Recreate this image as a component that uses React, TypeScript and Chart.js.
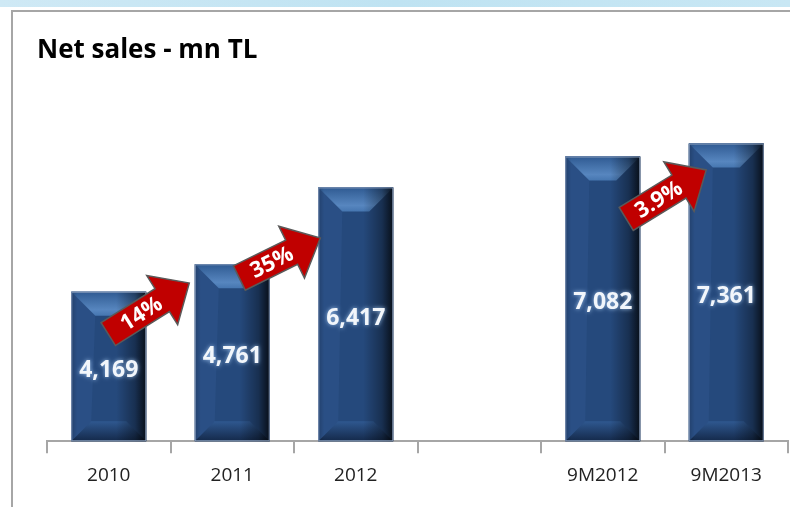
import React, { useEffect, useRef } from 'react';
import { Chart, registerables } from 'chart.js';

Chart.register(...registerables);

const title = 'Net sales - mn TL';
const categories = ['2010', '2011', '2012', '', '9M2012', '9M2013'];
const netSales: (number | null)[] = [4169, 4761, 6417, null, 7082, 7361];

// growth arrows: label, start (category position, value), end (category position, value)
const arrowLabels = ['14%', '35%', '3.9%'];
const arrowFromIndex = [-0.004, 1.057, 4.19];
const arrowFromValue = [3257, 4465, 5738];
const arrowToIndex = [0.652, 1.713, 4.838];
const arrowToValue = [4357, 5328, 6794];

const Y_MIN = 950;
const Y_MAX = 8300;

const decorPlugin = {
  id: 'decor',
  beforeDraw(chart: any) {
    const { ctx, width, height } = chart;
    ctx.save();
    ctx.fillStyle = '#ffffff';
    ctx.fillRect(0, 0, width, height);
    const g = ctx.createLinearGradient(0, 0, width, 0);
    g.addColorStop(0, '#cfe9f5');
    g.addColorStop(0.5, '#bfe3f2');
    g.addColorStop(1, '#c8e7f4');
    ctx.fillStyle = g;
    ctx.fillRect(0, 0, width, 7);
    ctx.strokeStyle = '#a6a6a6';
    ctx.lineWidth = 2;
    ctx.beginPath();
    ctx.moveTo(12, height);
    ctx.lineTo(12, 11);
    ctx.lineTo(width, 11);
    ctx.stroke();
    ctx.fillStyle = '#000000';
    ctx.font = 'bold 26px "Open Sans"';
    ctx.textBaseline = 'alphabetic';
    ctx.textAlign = 'left';
    ctx.fillText(title, 37, 58, 223);
    ctx.restore();
  },
};

function drawArrow(ctx: CanvasRenderingContext2D, x0: number, y0: number, x1: number, y1: number, label: string) {
  const dx = x1 - x0;
  const dy = y1 - y0;
  const L = Math.sqrt(dx * dx + dy * dy);
  const ang = Math.atan2(dy, dx);
  const headLen = 32;
  const shaftHalf = 13.5;
  const headHalf = 29;
  ctx.save();
  ctx.translate(x0, y0);
  ctx.rotate(ang);
  ctx.beginPath();
  ctx.moveTo(0, -shaftHalf);
  ctx.lineTo(L - headLen, -shaftHalf);
  ctx.lineTo(L - headLen, -headHalf);
  ctx.lineTo(L, 0);
  ctx.lineTo(L - headLen, headHalf);
  ctx.lineTo(L - headLen, shaftHalf);
  ctx.lineTo(0, shaftHalf);
  ctx.closePath();
  ctx.fillStyle = '#c00000';
  ctx.fill();
  ctx.strokeStyle = '#5a5a5a';
  ctx.lineWidth = 1.5;
  ctx.stroke();
  ctx.fillStyle = '#ffffff';
  ctx.font = 'bold 22px "Open Sans"';
  ctx.textAlign = 'center';
  ctx.textBaseline = 'middle';
  ctx.fillText(label, (L - headLen) / 2 + 7, 1);
  ctx.restore();
}

const barPlugin = {
  id: 'bevelBars',
  afterDatasetsDraw(chart: any) {
    const { ctx, chartArea } = chart;
    const meta = chart.getDatasetMeta(0);
    ctx.save();
    meta.data.forEach((el: any, i: number) => {
      const v = netSales[i];
      if (v == null) return;
      const l = el.x - el.width / 2;
      const r = el.x + el.width / 2;
      const t = el.y;
      const b = Math.min(el.base, chartArea.bottom);
      const w = r - l;
      const d = 24;
      // body
      ctx.fillStyle = '#25497c';
      ctx.fillRect(l, t, w, b - t);
      // top bevel
      const tg = ctx.createLinearGradient(0, t, 0, t + d);
      tg.addColorStop(0, '#2f5a92');
      tg.addColorStop(0.75, '#5786bf');
      tg.addColorStop(1, '#4676b0');
      ctx.fillStyle = tg;
      ctx.beginPath();
      ctx.moveTo(l, t);
      ctx.lineTo(r, t);
      ctx.lineTo(r - d, t + d);
      ctx.lineTo(l + d, t + d);
      ctx.closePath();
      ctx.fill();
      // bottom bevel
      const bd = 20;
      const bg = ctx.createLinearGradient(0, b - bd, 0, b);
      bg.addColorStop(0, '#2f5890');
      bg.addColorStop(1, '#14294a');
      ctx.fillStyle = bg;
      ctx.beginPath();
      ctx.moveTo(l, b);
      ctx.lineTo(r, b);
      ctx.lineTo(r - bd, b - bd);
      ctx.lineTo(l + bd, b - bd);
      ctx.closePath();
      ctx.fill();
      // left bevel slight
      ctx.fillStyle = 'rgba(60,100,160,0.25)';
      ctx.beginPath();
      ctx.moveTo(l, t);
      ctx.lineTo(l + d, t + d);
      ctx.lineTo(l + bd, b - bd);
      ctx.lineTo(l, b);
      ctx.closePath();
      ctx.fill();
      // horizontal shading
      const hg = ctx.createLinearGradient(l, 0, r, 0);
      hg.addColorStop(0, 'rgba(0,0,0,0.18)');
      hg.addColorStop(0.08, 'rgba(0,0,0,0)');
      hg.addColorStop(0.6, 'rgba(0,0,0,0)');
      hg.addColorStop(0.85, 'rgba(0,0,0,0.35)');
      hg.addColorStop(1, 'rgba(0,0,0,0.8)');
      ctx.fillStyle = hg;
      ctx.fillRect(l, t, w, b - t);
      // border
      ctx.strokeStyle = 'rgba(140,160,190,0.9)';
      ctx.lineWidth = 1;
      ctx.strokeRect(l + 0.5, t + 0.5, w - 1, b - t - 1);
      // value label
      ctx.save();
      ctx.font = 'bold 23px "Open Sans"';
      ctx.textAlign = 'center';
      ctx.textBaseline = 'middle';
      ctx.shadowColor = 'rgba(170,205,245,0.9)';
      ctx.shadowBlur = 4;
      ctx.fillStyle = '#f2f6fb';
      ctx.fillText(v.toLocaleString('en-US'), el.x, (t + b) / 2 + 4);
      ctx.restore();
    });
    const xs = chart.scales.x;
    const ys = chart.scales.y;
    arrowLabels.forEach((lab, k) => {
      drawArrow(
        ctx,
        xs.getPixelForValue(arrowFromIndex[k]),
        ys.getPixelForValue(arrowFromValue[k]),
        xs.getPixelForValue(arrowToIndex[k]),
        ys.getPixelForValue(arrowToValue[k]),
        lab
      );
    });
    ctx.restore();
  },
};

export default function App() {
  const ref = useRef<HTMLCanvasElement | null>(null);
  useEffect(() => {
    if (!ref.current) return;
    const chart = new Chart(ref.current, {
      type: 'bar',
      data: {
        labels: categories,
        datasets: [
          {
            data: netSales as any,
            backgroundColor: '#25497c',
            borderWidth: 0,
            base: Y_MIN,
            categoryPercentage: 1,
            barPercentage: 0.607,
          } as any,
        ],
      },
      options: {
        animation: false,
        responsive: false,
        maintainAspectRatio: false,
        layout: { padding: { left: 47, right: 2, top: 100, bottom: 9 } },
        plugins: {
          legend: { display: false },
          tooltip: { enabled: false },
          title: { display: false },
        },
        scales: {
          x: {
            grid: {
              offset: true,
              drawOnChartArea: false,
              drawTicks: true,
              tickLength: 12,
              color: '#a6a6a6',
              lineWidth: 2,
            },
            border: { display: true, color: '#a6a6a6', width: 2 },
            ticks: {
              color: '#222222',
              font: { family: 'Open Sans', size: 19 },
              padding: 11,
              maxRotation: 0,
              autoSkip: false,
            },
          },
          y: { display: false, min: Y_MIN, max: Y_MAX },
        },
      },
      plugins: [decorPlugin, barPlugin],
    });
    return () => chart.destroy();
  }, []);
  return (
    <div style={{ position: 'fixed', left: 0, top: 0, width: 790, height: 507 }}>
      <canvas ref={ref} width={790} height={507} style={{ display: 'block' }} />
    </div>
  );
}
